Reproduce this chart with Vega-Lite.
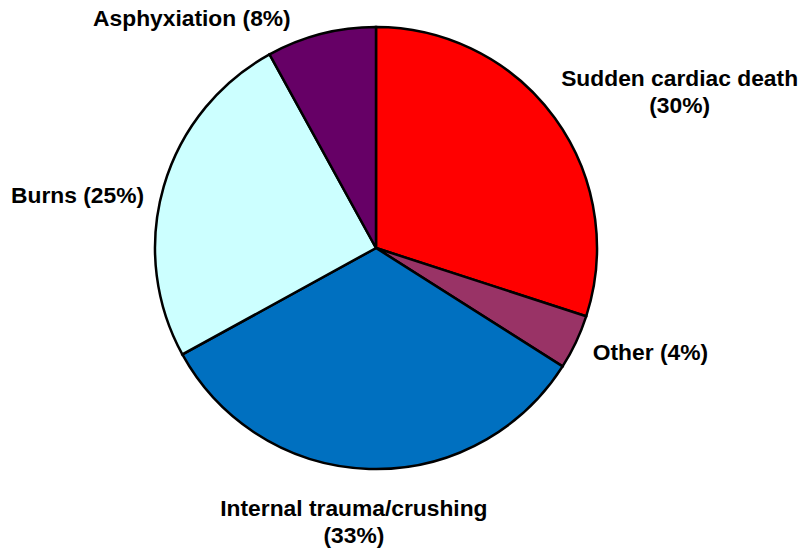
{
  "$schema": "https://vega.github.io/schema/vega-lite/v6.json",
  "width": 752,
  "height": 496,
  "autosize": {"type": "none"},
  "padding": {"left": 0, "top": 0, "right": 54, "bottom": 55},
  "background": "white",
  "config": {"view": {"stroke": null}},
  "data": {
    "values": [
      {"cause": "Sudden cardiac death", "pct": 30, "ord": 1, "label": "Sudden cardiac death\n(30%)"},
      {"cause": "Other", "pct": 4, "ord": 2, "label": "Other (4%)"},
      {"cause": "Internal trauma/crushing", "pct": 33, "ord": 3, "label": "Internal trauma/crushing\n(33%)"},
      {"cause": "Burns", "pct": 25, "ord": 4, "label": "Burns (25%)"},
      {"cause": "Asphyxiation", "pct": 8, "ord": 5, "label": "Asphyxiation (8%)"}
    ]
  },
  "encoding": {
    "theta": {"field": "pct", "type": "quantitative", "stack": true},
    "order": {"field": "ord", "type": "quantitative"}
  },
  "layer": [
    {
      "mark": {"type": "arc", "outerRadius": 221, "stroke": "black", "strokeWidth": 2.5},
      "encoding": {
        "color": {
          "field": "cause",
          "type": "nominal",
          "scale": {
            "domain": ["Sudden cardiac death", "Other", "Internal trauma/crushing", "Burns", "Asphyxiation"],
            "range": ["#FF0000", "#993366", "#0070C0", "#CCFFFF", "#660066"]
          },
          "legend": null
        }
      }
    },
    {
      "mark": {"type": "text", "radius": 290, "dx": 69, "dy": 1, "font": "Liberation Sans", "fontWeight": "bold", "fontSize": 22.8, "lineBreak": "\n", "lineHeight": 27, "align": "center", "baseline": "middle", "color": "black"},
      "encoding": {"text": {"condition": {"test": "datum.ord == 1", "field": "label"}, "value": ""}}
    },
    {
      "mark": {"type": "text", "radius": 290, "dx": 12, "dy": -18, "font": "Liberation Sans", "fontWeight": "bold", "fontSize": 22.8, "lineBreak": "\n", "lineHeight": 27, "align": "center", "baseline": "middle", "color": "black"},
      "encoding": {"text": {"condition": {"test": "datum.ord == 2", "field": "label"}, "value": ""}}
    },
    {
      "mark": {"type": "text", "radius": 290, "dx": -13, "dy": -29, "font": "Liberation Sans", "fontWeight": "bold", "fontSize": 22.8, "lineBreak": "\n", "lineHeight": 27, "align": "center", "baseline": "middle", "color": "black"},
      "encoding": {"text": {"condition": {"test": "datum.ord == 3", "field": "label"}, "value": ""}}
    },
    {
      "mark": {"type": "text", "radius": 290, "dx": -20, "dy": 29, "font": "Liberation Sans", "fontWeight": "bold", "fontSize": 22.8, "lineBreak": "\n", "lineHeight": 27, "align": "center", "baseline": "middle", "color": "black"},
      "encoding": {"text": {"condition": {"test": "datum.ord == 4", "field": "label"}, "value": ""}}
    },
    {
      "mark": {"type": "text", "radius": 290, "dx": -112, "dy": 52, "font": "Liberation Sans", "fontWeight": "bold", "fontSize": 22.8, "lineBreak": "\n", "lineHeight": 27, "align": "center", "baseline": "middle", "color": "black"},
      "encoding": {"text": {"condition": {"test": "datum.ord == 5", "field": "label"}, "value": ""}}
    }
  ]
}
